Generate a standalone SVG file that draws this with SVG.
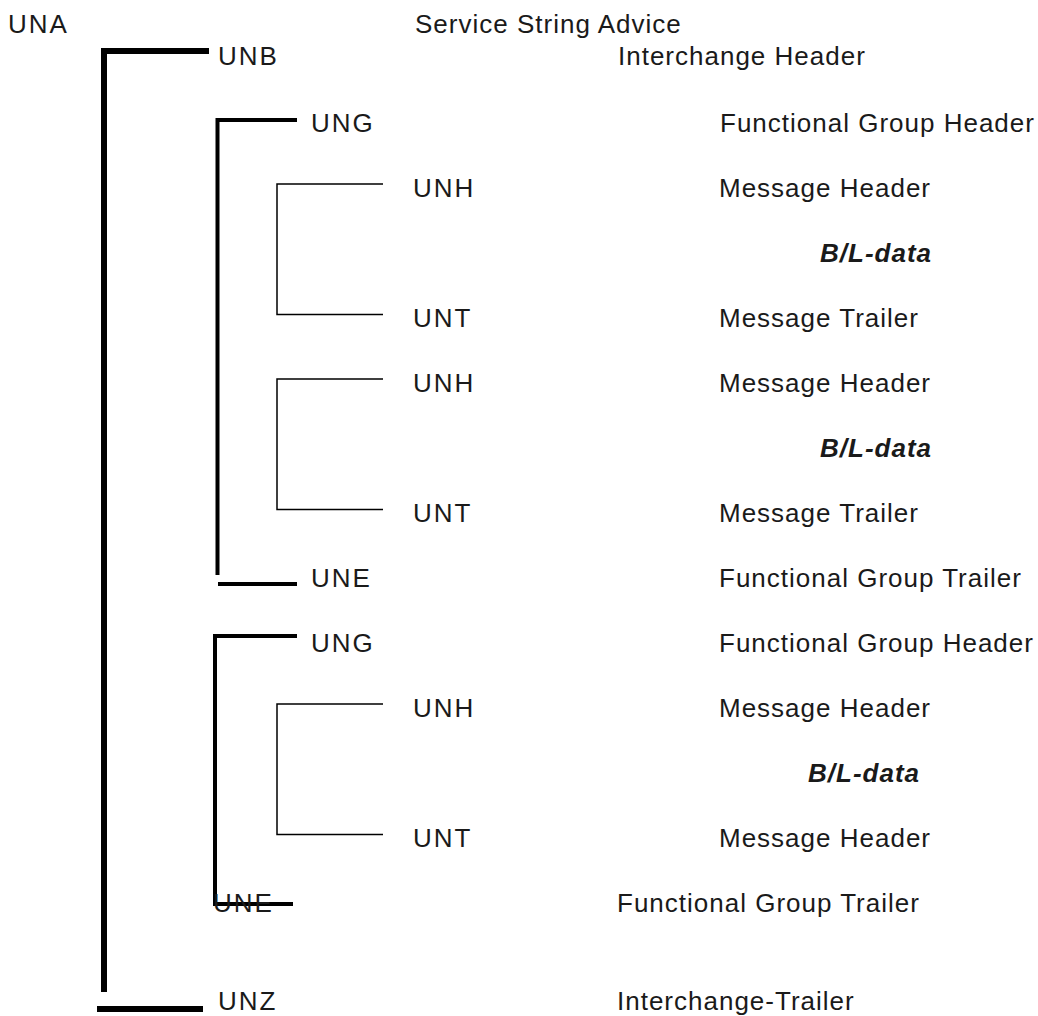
<svg xmlns="http://www.w3.org/2000/svg" width="1038" height="1016" viewBox="0 0 1038 1016">
<style>
text{font-family:"Liberation Sans",Arial,sans-serif;font-size:26px;fill:#1a1a1a;letter-spacing:1px}
.code{letter-spacing:2px}
.bl{font-weight:bold;font-style:italic}
.thick{stroke:#000;stroke-width:6;fill:none}
.mid{stroke:#000;stroke-width:4;fill:none}
.thin{stroke:#000;stroke-width:1.5;fill:none}
</style>
<rect width="1038" height="1016" fill="#fff"/>
<g id="connectors">
<path class="thick" d="M209 51 H104 V992"/>
<path class="thick" d="M97 1009 H203"/>
<path class="mid" d="M297 120 H217.5 V575"/>
<path class="mid" d="M218 584 H297"/>
<path class="thin" d="M383 184 H277 V314.5 H383"/>
<path class="thin" d="M383 379 H277 V509.5 H383"/>
<path class="thin" d="M383 704 H277 V834.5 H383"/>
<path class="mid" d="M297 636 H215 V905"/>
<path class="mid" d="M213 904 H293"/>
</g>
<g id="una"><text class="code" x="8" y="33">UNA</text><text x="415" y="33">Service String Advice</text></g>
<g id="unb"><text class="code" x="218" y="65">UNB</text><text x="618" y="65">Interchange Header</text></g>
<g id="ung1"><text class="code" x="311" y="132">UNG</text><text x="720" y="132">Functional Group Header</text></g>
<g id="unh1"><text class="code" x="413" y="197">UNH</text><text x="719" y="197">Message Header</text></g>
<g id="data1"><text class="bl" x="820" y="262">B/L-data</text></g>
<g id="unt1"><text class="code" x="413" y="327">UNT</text><text x="719" y="327">Message Trailer</text></g>
<g id="unh2"><text class="code" x="413" y="392">UNH</text><text x="719" y="392">Message Header</text></g>
<g id="data2"><text class="bl" x="820" y="457">B/L-data</text></g>
<g id="unt2"><text class="code" x="413" y="522">UNT</text><text x="719" y="522">Message Trailer</text></g>
<g id="une1"><text class="code" x="311" y="587">UNE</text><text x="719" y="587">Functional Group Trailer</text></g>
<g id="ung2"><text class="code" x="311" y="652">UNG</text><text x="719" y="652">Functional Group Header</text></g>
<g id="unh3"><text class="code" x="413" y="717">UNH</text><text x="719" y="717">Message Header</text></g>
<g id="data3"><text class="bl" x="808" y="782">B/L-data</text></g>
<g id="unt3"><text class="code" x="413" y="847">UNT</text><text x="719" y="847">Message Header</text></g>
<g id="une2"><text class="code" x="213" y="912">UNE</text><text x="617" y="912">Functional Group Trailer</text></g>
<g id="unz"><text class="code" x="218" y="1010">UNZ</text><text x="617" y="1010">Interchange-Trailer</text></g>
</svg>
